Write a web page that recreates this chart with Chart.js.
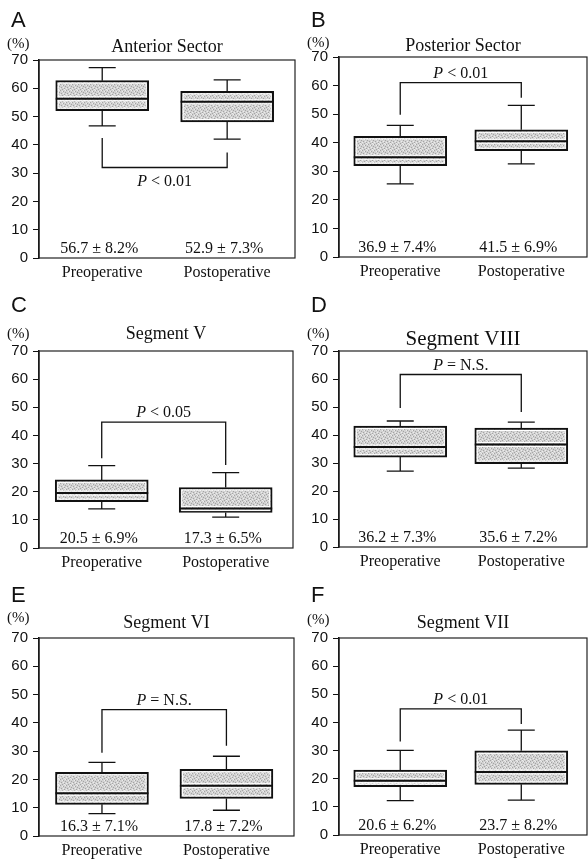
<!DOCTYPE html>
<html>
<head>
<meta charset="utf-8">
<script src="https://cdn.jsdelivr.net/npm/chart.js@4"></script>
<style>
  body { margin: 0; background: #fff; }
  #fig { position: relative; width: 588px; height: 859px; }
  #fig canvas { position: absolute; }
</style>
</head>
<body>
<div id="fig"></div>
<script>
// data
const groups = ['Preoperative', 'Postoperative'];
const panelLetters = ['A', 'B', 'C', 'D', 'E', 'F'];
const panelTitles = ['Anterior Sector', 'Posterior Sector', 'Segment V', 'Segment VIII', 'Segment VI', 'Segment VII'];
const yTickValues = [0, 10, 20, 30, 40, 50, 60, 70];

const whiskerLow = [[46.7, 42], [25.6, 32.6], [13.9, 11], [27.1, 28.2], [7.9, 9.1], [12.2, 12.4]];
const quartile1 = [[52.1, 48.1], [32, 37.2], [16.5, 12.6], [32.1, 29.8], [11.2, 13.3], [17.2, 18]];
const medians = [[56.3, 55.2], [34.9, 40.5], [19.5, 14], [35.7, 36.6], [15.1, 17.8], [19.3, 22.4]];
const quartile3 = [[62.7, 58.9], [42.2, 44.5], [24.2, 21.5], [43.2, 42.5], [22.5, 23.6], [23.1, 29.9]];
const whiskerHigh = [[67.3, 63], [46.1, 53.1], [29.3, 26.8], [45, 44.6], [26, 28.2], [30.1, 37.3]];

const meanLabels = [
  ['56.7 ± 8.2%', '52.9 ± 7.3%'],
  ['36.9 ± 7.4%', '41.5 ± 6.9%'],
  ['20.5 ± 6.9%', '17.3 ± 6.5%'],
  ['36.2 ± 7.3%', '35.6 ± 7.2%'],
  ['16.3 ± 7.1%', '17.8 ± 7.2%'],
  ['20.6 ± 6.2%', '23.7 ± 8.2%']
];
const pLabels = ['< 0.01', '< 0.01', '< 0.05', '= N.S.', '= N.S.', '< 0.01'];
const bracketLevel = [32, 61, 44.7, 61.6, 44.7, 44.8];
const bracketFrom = [[42.4, 37.3], [49.8, 55.7], [31.9, 29.5], [49.6, 48.2], [29.4, 31.9], [33.2, 39.4]];

// layout (canvas rect + plot area inside canvas)
const panels = [
  { left: 0, top: 0, width: 296, height: 285, area: [39, 60, 295, 258], titleY: 52, unitY: 48, titleSize: 18 },
  { left: 296, top: 0, width: 292, height: 285, area: [43, 57, 291, 257], titleY: 51, unitY: 47, titleSize: 18 },
  { left: 0, top: 285, width: 296, height: 290, area: [39, 66, 293, 263], titleY: 54, unitY: 53, titleSize: 18 },
  { left: 296, top: 285, width: 292, height: 290, area: [43, 66, 291, 262], titleY: 60, unitY: 53, titleSize: 21 },
  { left: 0, top: 575, width: 296, height: 284, area: [39, 63, 294, 261], titleY: 53, unitY: 47, titleSize: 18 },
  { left: 296, top: 575, width: 292, height: 284, area: [43, 63, 291, 260], titleY: 53, unitY: 49, titleSize: 18 }
];

const serif = '"Liberation Serif", "Times New Roman", serif';
const sans = '"Liberation Sans", Arial, sans-serif';
const ink = '#111';

function stipple(ctx) {
  const c = document.createElement('canvas');
  c.width = 6; c.height = 6;
  const g = c.getContext('2d');
  g.fillStyle = '#d2d2d2';
  g.fillRect(0, 0, 6, 6);
  g.fillStyle = '#a4a4a4';
  [[0, 0], [3, 1], [1, 3], [4, 4], [2, 5], [5, 2]].forEach(([x, y]) => g.fillRect(x, y, 1, 1));
  g.fillStyle = '#ececec';
  [[2, 1], [5, 0], [0, 4], [3, 3], [4, 5]].forEach(([x, y]) => g.fillRect(x, y, 1, 1));
  return ctx.createPattern(c, 'repeat');
}

function extras(p) {
  const lay = panels[p];
  return {
    id: 'extras',
    afterDatasetsDraw(chart) {
      const ctx = chart.ctx, xs = chart.scales.x, ys = chart.scales.y;
      ctx.save();
      chart.getDatasetMeta(0).data.forEach((bar, i) => {
        const x = xs.getPixelForValue(i);
        const half = bar.width / 2;
        const top = ys.getPixelForValue(quartile3[p][i]);
        const bottom = ys.getPixelForValue(quartile1[p][i]);
        const med = ys.getPixelForValue(medians[p][i]);
        // thin white rim inside the box
        ctx.strokeStyle = '#fff';
        ctx.lineWidth = 1;
        ctx.strokeRect(x - half + 2.5, top + 2.5, bar.width - 5, bottom - top - 5);
        ctx.beginPath();
        ctx.moveTo(x - half + 2, med - 2); ctx.lineTo(x + half - 2, med - 2);
        ctx.moveTo(x - half + 2, med + 2); ctx.lineTo(x + half - 2, med + 2);
        ctx.stroke();
        // median
        ctx.strokeStyle = ink;
        ctx.lineWidth = 2;
        ctx.beginPath();
        ctx.moveTo(x - half, med); ctx.lineTo(x + half, med);
        ctx.stroke();
        // whiskers
        ctx.lineWidth = 1.3;
        [[quartile3, whiskerHigh], [quartile1, whiskerLow]].forEach(([a, b]) => {
          const y0 = ys.getPixelForValue(a[p][i]);
          const y1 = ys.getPixelForValue(b[p][i]);
          ctx.beginPath();
          ctx.moveTo(x, y0); ctx.lineTo(x, y1);
          ctx.moveTo(x - 13.5, y1); ctx.lineTo(x + 13.5, y1);
          ctx.stroke();
        });
        // mean +- sd
        ctx.fillStyle = ink;
        ctx.font = '16px ' + serif;
        ctx.textAlign = 'center';
        ctx.textBaseline = 'alphabetic';
        ctx.fillText(meanLabels[p][i], x - 3, ys.getPixelForValue(0) - 5);
      });

      // p-value bracket
      const xa = xs.getPixelForValue(0), xb = xs.getPixelForValue(1);
      const yl = ys.getPixelForValue(bracketLevel[p]);
      ctx.strokeStyle = ink;
      ctx.lineWidth = 1.3;
      ctx.beginPath();
      ctx.moveTo(xa, ys.getPixelForValue(bracketFrom[p][0]));
      ctx.lineTo(xa, yl);
      ctx.lineTo(xb, yl);
      ctx.lineTo(xb, ys.getPixelForValue(bracketFrom[p][1]));
      ctx.stroke();

      const below = bracketLevel[p] < bracketFrom[p][0];
      const base = below ? yl + 19 : yl - 5;
      const rest = ' ' + pLabels[p];
      ctx.font = 'italic 16px ' + serif;
      const wP = ctx.measureText('P').width;
      ctx.font = '16px ' + serif;
      const wR = ctx.measureText(rest).width;
      const x0 = (xa + xb) / 2 - (wP + wR) / 2;
      ctx.textAlign = 'left';
      ctx.fillStyle = ink;
      ctx.font = 'italic 16px ' + serif;
      ctx.fillText('P', x0, base);
      ctx.font = '16px ' + serif;
      ctx.fillText(rest, x0 + wP, base);
      ctx.restore();
    },
    afterDraw(chart) {
      const ctx = chart.ctx, a = chart.chartArea;
      ctx.save();
      ctx.strokeStyle = '#222';
      ctx.lineWidth = 1.2;
      ctx.strokeRect(a.left, a.top, a.right - a.left, a.bottom - a.top);
      ctx.fillStyle = ink;
      ctx.textBaseline = 'alphabetic';
      ctx.textAlign = 'left';
      ctx.font = '22px ' + sans;
      ctx.fillText(panelLetters[p], a.left - 28, 27);
      ctx.font = '15px ' + serif;
      ctx.fillText('(%)', a.left - 32, lay.unitY);
      ctx.textAlign = 'center';
      ctx.font = lay.titleSize + 'px ' + serif;
      ctx.fillText(panelTitles[p], (a.left + a.right) / 2, lay.titleY);
      ctx.restore();
    }
  };
}

const fig = document.getElementById('fig');
panels.forEach((lay, p) => {
  const canvas = document.createElement('canvas');
  canvas.width = lay.width;
  canvas.height = lay.height;
  canvas.style.left = lay.left + 'px';
  canvas.style.top = lay.top + 'px';
  fig.appendChild(canvas);
  const ctx = canvas.getContext('2d');
  const [aL, aT, aR, aB] = lay.area;

  new Chart(ctx, {
    type: 'bar',
    data: {
      datasets: [{
        data: groups.map((g, i) => ({ x: i, y: [quartile1[p][i], quartile3[p][i]] })),
        backgroundColor: stipple(ctx),
        borderColor: ink,
        borderWidth: 2,
        borderSkipped: false,
        barThickness: 93
      }]
    },
    options: {
      responsive: false,
      animation: false,
      events: [],
      layout: { padding: { top: aT, right: lay.width - aR, bottom: 0, left: 0 } },
      plugins: { legend: { display: false }, tooltip: { enabled: false }, title: { display: false } },
      scales: {
        x: {
          type: 'linear',
          min: -0.506,
          max: 1.543,
          offset: false,
          grid: { display: false },
          border: { display: false },
          afterBuildTicks: s => { s.ticks = groups.map((g, i) => ({ value: i })); },
          afterFit: s => { s.height = lay.height - aB; },
          ticks: {
            callback: (v, i) => groups[i],
            padding: -3,
            color: ink,
            font: { family: serif, size: 16 },
            maxRotation: 0,
            autoSkip: false
          }
        },
        y: {
          min: 0,
          max: 70,
          afterBuildTicks: s => { s.ticks = yTickValues.map(v => ({ value: v })); },
          afterFit: s => { s.width = aL; },
          grid: { drawOnChartArea: false, drawTicks: true, tickLength: 6, color: ink, lineWidth: 1 },
          border: { display: true, color: ink, width: 1.5 },
          ticks: { padding: 5, color: ink, font: { family: sans, size: 15 } }
        }
      }
    },
    plugins: [extras(p)]
  });
});
</script>
</body>
</html>
